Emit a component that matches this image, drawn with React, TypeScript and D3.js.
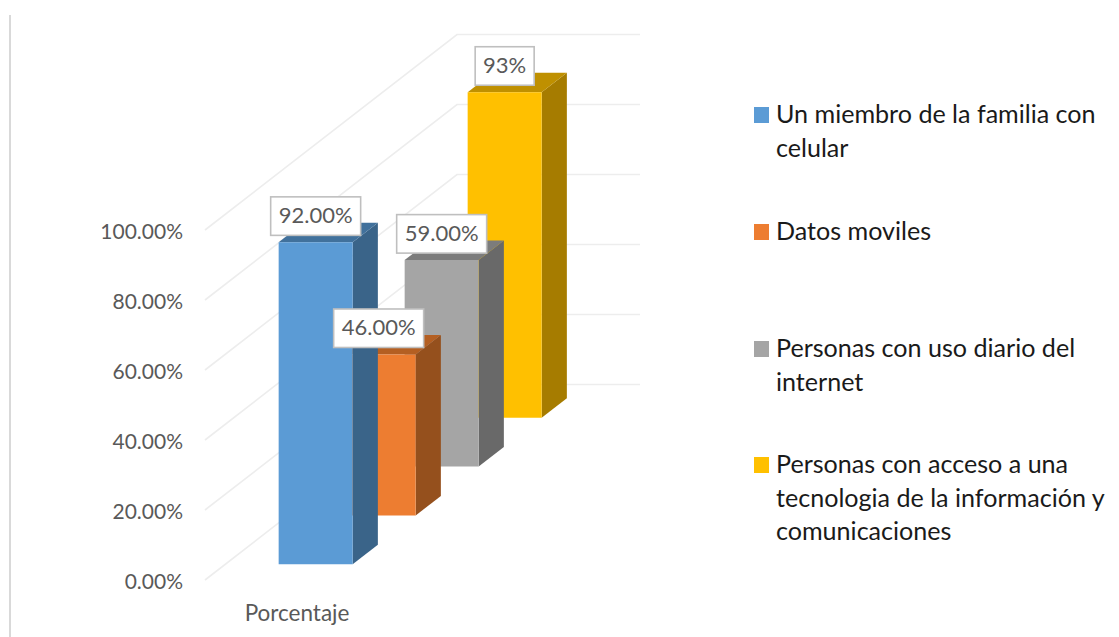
import React from "react";
import * as d3 from "d3";

const seriesNames = [
  ["Un miembro de la familia con", "celular"],
  ["Datos moviles"],
  ["Personas con uso diario del", "internet"],
  ["Personas con acceso a una", "tecnologia de la información y", "comunicaciones"],
];
const seriesValues = [92, 46, 59, 93];
const valueLabels = ["92.00%", "46.00%", "59.00%", "93%"];
const frontColors = ["#5B9BD5", "#ED7D31", "#A5A5A5", "#FFC000"];
const sideColors = ["#3A6489", "#95501D", "#696969", "#A67C00"];
const topColors = ["#41719C", "#B45F22", "#7C7C7C", "#BF9000"];
const axisTicks = [0, 20, 40, 60, 80, 100];
const categoryLabel = "Porcentaje";
const legendSwatchY = [107, 224, 341, 457];
const legendBaselineY = [123, 240, 357, 473];

const FONT = "Lato, 'Open Sans', sans-serif";
const LINE_H = 33.6;
const W = 183;

// Oblique projection: along the width (u), depth (d, 0..1) and value (v)
const depthX = d3.scaleLinear().domain([0, 1]).range([205, 457]);
const depthY = d3.scaleLinear().domain([0, 1]).range([580, 384.5]);
const valueH = d3.scaleLinear().domain([0, 100]).range([0, 350]);
const px = (u: number, d: number) => depthX(d) + u;
const py = (v: number, d: number) => depthY(d) - valueH(v);

const BAR_U0 = 53.5;
const BAR_U1 = 127.5;
const BAR_DEPTH = 0.1;
const seriesDepth = d3.scaleLinear().domain([0, 1]).range([0.08, 0.33]);

const poly = (pts: [number, number][]) => d3.line()(pts) + "Z";

function Bar({ i }: { i: number }) {
  const v = seriesValues[i];
  const d0 = seriesDepth(i);
  const d1 = d0 + BAR_DEPTH;
  return (
    <g>
      <path fill={sideColors[i]} d={poly([[px(BAR_U1, d0), py(0, d0)], [px(BAR_U1, d1), py(0, d1)], [px(BAR_U1, d1), py(v, d1)], [px(BAR_U1, d0), py(v, d0)]])} />
      <path fill={topColors[i]} d={poly([[px(BAR_U0, d0), py(v, d0)], [px(BAR_U1, d0), py(v, d0)], [px(BAR_U1, d1), py(v, d1)], [px(BAR_U0, d1), py(v, d1)]])} />
      <path fill={frontColors[i]} d={poly([[px(BAR_U0, d0), py(0, d0)], [px(BAR_U1, d0), py(0, d0)], [px(BAR_U1, d0), py(v, d0)], [px(BAR_U0, d0), py(v, d0)]])} />
    </g>
  );
}

function Label({ i }: { i: number }) {
  const d0 = seriesDepth(i);
  const cx = px((BAR_U0 + BAR_U1) / 2, d0);
  const bottom = py(seriesValues[i], d0) - 7;
  const text = valueLabels[i];
  const w = 28 + text.length * 10.33;
  return (
    <g>
      <rect x={cx - w / 2} y={bottom - 38.5} width={w} height={38.5} fill="#fff" stroke="#BFBFBF" strokeWidth={1.6} />
      <text x={cx} y={bottom - 12} textAnchor="middle" fontSize={22} fill="#595959" fontFamily={FONT}>{text}</text>
    </g>
  );
}

export default function App() {
  const order = d3.range(seriesValues.length).reverse();
  return (
    <svg width={1119} height={637} style={{ position: "absolute", left: 0, top: 0, background: "#fff" }}>
      <line x1={10} x2={10} y1={15} y2={637} stroke="#D9D9D9" strokeWidth={2} />
      {axisTicks.map((t) => (
        <g key={t}>
          <path fill="none" stroke="#EDEDED" strokeWidth={1.6} d={d3.line()([[px(0, 0), py(t, 0)], [px(0, 1), py(t, 1)], [px(W, 1), py(t, 1)]]) as string} />
          <text x={183} y={py(t, 0) + 8.5} textAnchor="end" fontSize={21} fill="#595959" fontFamily={FONT}>{t.toFixed(2)}%</text>
        </g>
      ))}
      <text x={297} y={621} textAnchor="middle" fontSize={22.5} fill="#595959" fontFamily={FONT}>{categoryLabel}</text>
      {order.map((i) => <Bar key={i} i={i} />)}
      {[0, 2, 1, 3].map((i) => <Label key={i} i={i} />)}
      {seriesNames.map((lines, i) => (
        <g key={i}>
          <rect x={754} y={legendSwatchY[i]} width={15} height={16} fill={frontColors[i]} />
          {lines.map((l, j) => (
            <text key={j} x={776} y={legendBaselineY[i] + j * LINE_H} fontSize={25.1} fill="#1A1A1A" fontFamily={FONT}>{l}</text>
          ))}
        </g>
      ))}
    </svg>
  );
}
